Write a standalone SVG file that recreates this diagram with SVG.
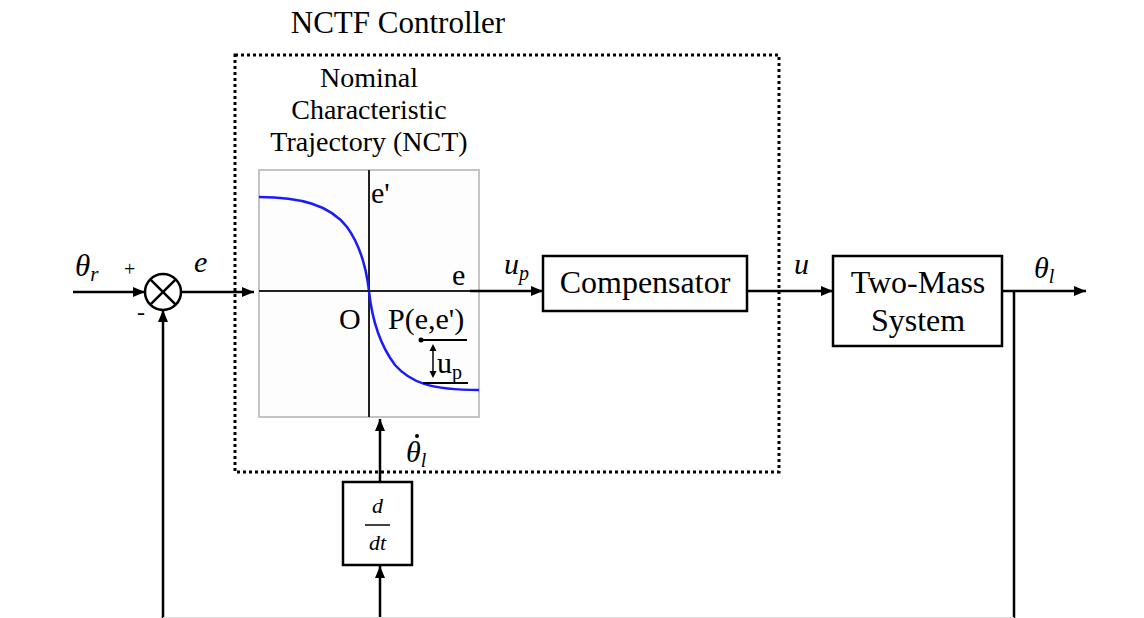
<svg xmlns="http://www.w3.org/2000/svg" width="1144" height="618" viewBox="0 0 1144 618">
<defs>
<marker id="ah" viewBox="0 0 12 10" refX="12" refY="5" markerWidth="12" markerHeight="10" markerUnits="userSpaceOnUse" orient="auto">
<path d="M0,0 L12,5 L0,10 Z" fill="#000"/>
</marker>
<style>
text{font-family:'Liberation Serif','Times New Roman',serif;fill:#000}
.i{font-style:italic}
.ln{stroke:#000;stroke-width:2.5;fill:none}
.box{fill:#fff;stroke:#000;stroke-width:2.5}
</style>
</defs>
<rect width="1144" height="618" fill="#fff"/>

<g id="nctf-controller" font-family="Liberation Serif, serif">
<rect x="235" y="55" width="544" height="417" fill="none" stroke="#000" stroke-width="3" stroke-dasharray="3,3"/>
<text x="398" y="33" font-size="31" text-anchor="middle">NCTF Controller</text>
</g>

<g id="nct" font-family="Liberation Serif, serif">
<text x="369" y="87" font-size="28" text-anchor="middle">Nominal</text>
<text x="369" y="119" font-size="28" text-anchor="middle">Characteristic</text>
<text x="369" y="151" font-size="28" text-anchor="middle">Trajectory (NCT)</text>
<rect x="259" y="170" width="220" height="247" fill="#fdfdfd" stroke="#c4c4c4" stroke-width="2"/>
<line x1="369" y1="170" x2="369" y2="417" stroke="#222" stroke-width="2"/>
<path d="M259,197 C300,197 330,205 347,227 C360,245 366,265 369,291 C372,320 380,345 395,365 C410,382 430,390 479,390" fill="none" stroke="#1a1aff" stroke-width="2.5"/>
<text x="371" y="203" font-size="30">e'</text>
<text x="452" y="285" font-size="30">e</text>
<text x="339" y="329" font-size="30">O</text>
<text x="388" y="329" font-size="30">P(e,e')</text>
<line x1="421" y1="340" x2="467" y2="340" stroke="#000" stroke-width="2"/>
<circle cx="421" cy="340" r="2.5" fill="#000"/>
<line x1="423" y1="383" x2="468" y2="383" stroke="#000" stroke-width="2"/>
<line x1="433" y1="349" x2="433" y2="373" stroke="#000" stroke-width="1.5"/>
<path d="M433,344 L429.5,351 L436.5,351 Z M433,378 L429.5,371 L436.5,371 Z" fill="#000"/>
<text x="437" y="373" font-size="30">u<tspan font-size="20" dy="6">p</tspan></text>
</g>

<g id="sum">
<circle cx="163" cy="292" r="18" fill="#fff" stroke="#000" stroke-width="2.5"/>
<line x1="150.3" y1="279.3" x2="175.7" y2="304.7" stroke="#000" stroke-width="2.5"/>
<line x1="175.7" y1="279.3" x2="150.3" y2="304.7" stroke="#000" stroke-width="2.5"/>
</g>

<g id="compensator" font-family="Liberation Serif, serif">
<rect class="box" x="543" y="256" width="204" height="55"/>
<text x="645" y="293" font-size="32" text-anchor="middle">Compensator</text>
</g>

<g id="two-mass" font-family="Liberation Serif, serif">
<rect class="box" x="833" y="256" width="169" height="90"/>
<text x="918" y="293" font-size="32" text-anchor="middle">Two-Mass</text>
<text x="918" y="331" font-size="32" text-anchor="middle">System</text>
</g>

<g id="ddt" font-family="Liberation Serif, serif">
<rect class="box" x="343" y="482" width="69" height="83"/>
<text class="i" x="377.5" y="513" font-size="22" text-anchor="middle">d</text>
<line x1="365" y1="525" x2="390" y2="525" stroke="#000" stroke-width="1.5"/>
<text class="i" x="377.5" y="550" font-size="22" text-anchor="middle">dt</text>
</g>

<g id="connectors">
<line class="ln" x1="73" y1="292" x2="145" y2="292" marker-end="url(#ah)"/>
<line class="ln" x1="181" y1="292" x2="254" y2="292" marker-end="url(#ah)"/>
<line x1="259" y1="291" x2="475" y2="291" stroke="#222" stroke-width="2"/>
<line class="ln" x1="470" y1="291" x2="543" y2="291" marker-end="url(#ah)"/>
<line class="ln" x1="747" y1="291" x2="833" y2="291" marker-end="url(#ah)"/>
<line class="ln" x1="1002" y1="291" x2="1086" y2="291" marker-end="url(#ah)"/>
<line class="ln" x1="1014" y1="291" x2="1014" y2="618"/>
<line class="ln" x1="163" y1="618" x2="163" y2="310" marker-end="url(#ah)"/>
<line class="ln" x1="380" y1="618" x2="380" y2="566" marker-end="url(#ah)"/>
<line class="ln" x1="380" y1="482" x2="380" y2="419" marker-end="url(#ah)"/>
<line x1="163" y1="617.5" x2="1014" y2="617.5" stroke="#ddd" stroke-width="1"/>
</g>

<g id="labels" font-family="Liberation Serif, serif">
<text class="i" x="75" y="276" font-size="31">θ<tspan font-size="21" dy="5">r</tspan></text>
<text x="124" y="276" font-size="20">+</text>
<text x="137" y="320" font-size="24">-</text>
<text class="i" x="194" y="272" font-size="30">e</text>
<text class="i" x="504" y="274" font-size="30">u<tspan font-size="20" dy="6">p</tspan></text>
<text class="i" x="794" y="274" font-size="30">u</text>
<text class="i" x="1034" y="278" font-size="30">θ<tspan font-size="20" dy="5">l</tspan></text>
<text class="i" x="406" y="462" font-size="30">θ<tspan font-size="20" dy="5">l</tspan></text>
<circle cx="417" cy="436" r="2" fill="#000"/>
</g>
</svg>
